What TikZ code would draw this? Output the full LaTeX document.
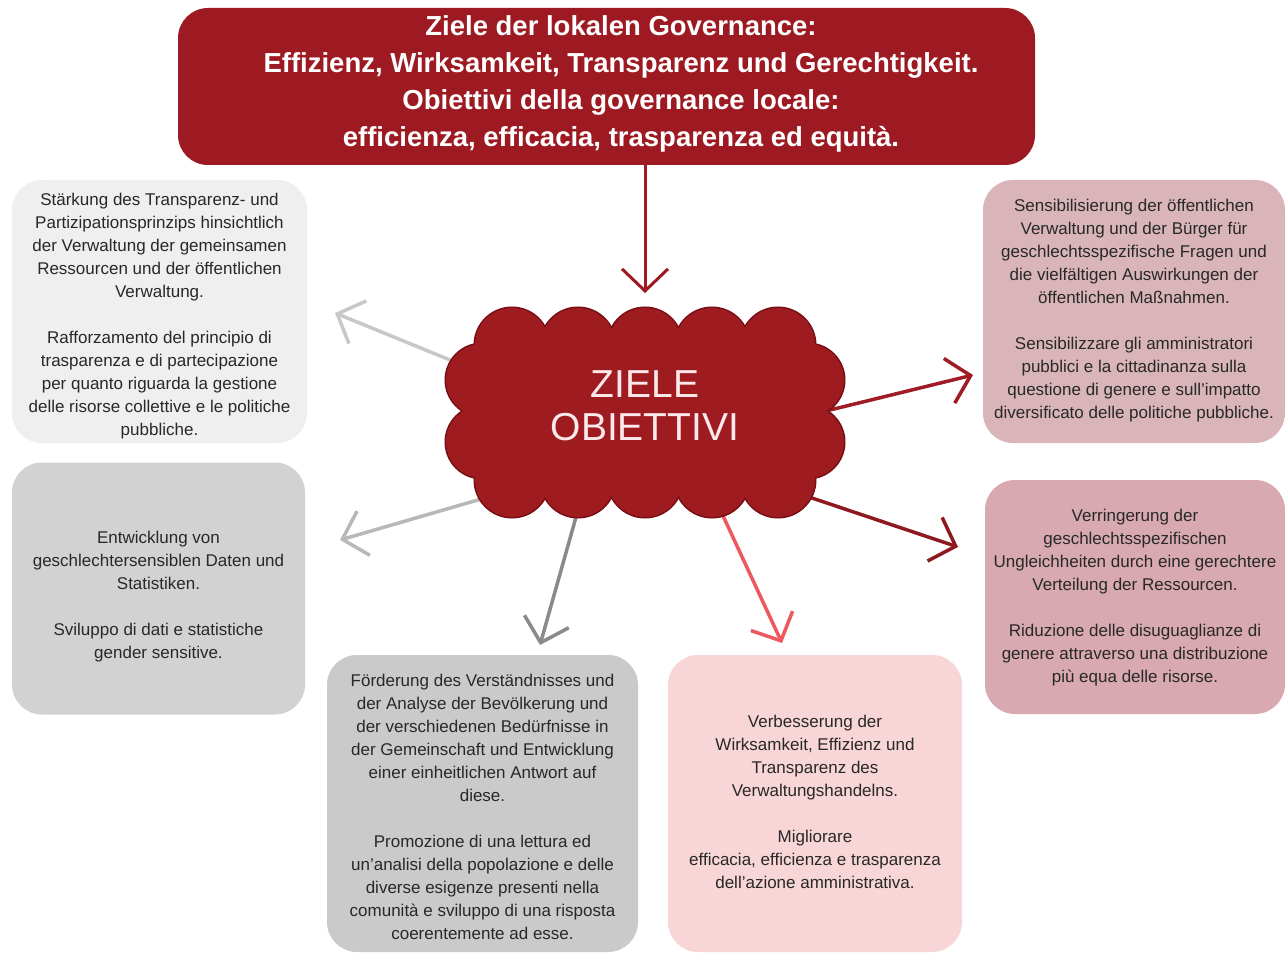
\documentclass[tikz,border=0pt]{standalone}
\usepackage{fontspec}
\setmainfont{Liberation Sans}
\usetikzlibrary{arrows.meta}
\definecolor{dred}{RGB}{157,26,34}
\definecolor{cloudred}{RGB}{158,27,32}
\definecolor{cloudedge}{RGB}{118,14,20}
\definecolor{cloudtxt}{RGB}{250,232,234}
\definecolor{txt}{RGB}{40,40,40}
\definecolor{boxA}{RGB}{239,239,239}
\definecolor{boxB}{RGB}{210,210,210}
\definecolor{boxC}{RGB}{202,202,202}
\definecolor{boxD}{RGB}{248,213,215}
\definecolor{boxE}{RGB}{217,181,185}
\definecolor{boxF}{RGB}{216,169,176}
\definecolor{arA}{RGB}{200,200,200}
\definecolor{arB}{RGB}{184,184,184}
\definecolor{arC}{RGB}{138,138,138}
\definecolor{arD}{RGB}{236,90,96}
\definecolor{arE}{RGB}{160,28,36}
\definecolor{arF}{RGB}{142,26,32}
\begin{document}
\begin{tikzpicture}[x=1pt,y=-1pt,
  infobox/.style={rounded corners=30pt, inner sep=0pt},
  infotext/.style={align=center, text=txt, inner sep=0pt,
    font=\fontsize{17}{23}\selectfont},
  conn/.style={line width=3.5pt, line cap=round, line join=round,
    -{Straight Barb[length=22pt,width=46pt]}}]
\useasboundingbox[fill=white] (0,0) rectangle (1286,955);

% top box
\node[fill=dred, rounded corners=30pt, minimum width=857pt, minimum height=157pt]
  (top) at (606.5,86.5) {};
\node[text=white, align=center, inner sep=0pt, font=\fontsize{27.5}{37}\selectfont\bfseries]
  (toptext) at (621,84)
  {Ziele der lokalen Governance:\\
   Effizienz, Wirksamkeit, Transparenz und Gerechtigkeit.\\
   Obiettivi della governance locale:\\
   efficienza, efficacia, trasparenza ed equità.};

% coordinates
\coordinate (tstart) at (645,165);
\coordinate (ttip) at (645,293);
\coordinate (s1) at (455,362);
\coordinate (t1) at (335,313);
\coordinate (s2) at (495,495);
\coordinate (t2) at (340,540);
\coordinate (s3) at (578,510);
\coordinate (t3) at (540,645);
\coordinate (s4) at (718,505);
\coordinate (t4) at (782,643);
\coordinate (s5) at (830,410);
\coordinate (t5) at (973,375);
\coordinate (s6) at (800,494);
\coordinate (t6) at (958,547);

% arrows (drawn under cloud)
\draw[conn, draw=dred, line width=3pt] (tstart) -- (ttip);
\draw[conn, draw=arA] (s1) -- (t1);
\draw[conn, draw=arB] (s2) -- (t2);
\draw[conn, draw=arC] (s3) -- (t3);
\draw[conn, draw=arD] (s4) -- (t4);
\draw[conn, draw=arE] (s5) -- (t5);
\draw[conn, draw=arF] (s6) -- (t6);

% cloud
\foreach \cx/\cy/\r in {512/345/37,578/345/37,645/345/37,712/345/37,778/345/37,
                        512/480/37,578/480/37,645/480/37,712/480/37,778/480/37,
                        482/380/36,482/442/36,808/380/36,808/442/36}
  \draw[cloudedge, line width=3pt] (\cx,\cy) circle[radius=\r];
\foreach \cx/\cy/\r in {512/345/37,578/345/37,645/345/37,712/345/37,778/345/37,
                        512/480/37,578/480/37,645/480/37,712/480/37,778/480/37,
                        482/380/36,482/442/36,808/380/36,808/442/36}
  \fill[cloudred] (\cx,\cy) circle[radius=\r];
\fill[cloudred] (482,345) rectangle (808,480);
\node[text=cloudtxt, align=center, font=\fontsize{39}{43}\selectfont]
  (cloud) at (645,406) {ZIELE\\OBIETTIVI};

% boxes
\node[infobox, fill=boxA, minimum width=295pt, minimum height=263pt] (b1) at (159.5,311.5) {};
\node[infotext] (b1t) at (159.5,316)
  {Stärkung des Transparenz- und\\
   Partizipationsprinzips hinsichtlich\\
   der Verwaltung der gemeinsamen\\
   Ressourcen und der öffentlichen\\
   Verwaltung.\\[23pt]
   Rafforzamento del principio di\\
   trasparenza e di partecipazione\\
   per quanto riguarda la gestione\\
   delle risorse collettive e le politiche\\
   pubbliche.};

\node[infobox, fill=boxB, minimum width=293pt, minimum height=252pt] (b2) at (158.5,588.5) {};
\node[infotext] (b2t) at (158.5,596.5)
  {Entwicklung von\\
   geschlechtersensiblen Daten und\\
   Statistiken.\\[23pt]
   Sviluppo di dati e statistiche\\
   gender sensitive.};

\node[infobox, fill=boxC, minimum width=311pt, minimum height=297pt] (b3) at (482.5,803.5) {};
\node[infotext] (b3t) at (482.5,806.5)
  {Förderung des Verständnisses und\\
   der Analyse der Bevölkerung und\\
   der verschiedenen Bedürfnisse in\\
   der Gemeinschaft und Entwicklung\\
   einer einheitlichen Antwort auf\\
   diese.\\[23pt]
   Promozione di una lettura ed\\
   un’analisi della popolazione e delle\\
   diverse esigenze presenti nella\\
   comunità e sviluppo di una risposta\\
   coerentemente ad esse.};

\node[infobox, fill=boxD, minimum width=294pt, minimum height=297pt] (b4) at (815,803.5) {};
\node[infotext] (b4t) at (815,802)
  {Verbesserung der\\
   Wirksamkeit, Effizienz und\\
   Transparenz des\\
   Verwaltungshandelns.\\[23pt]
   Migliorare\\
   efficacia, efficienza e trasparenza\\
   dell’azione amministrativa.};

\node[infobox, fill=boxE, minimum width=302pt, minimum height=263pt] (b5) at (1134,311.5) {};
\node[infotext] (b5t) at (1134,311)
  {Sensibilisierung der öffentlichen\\
   Verwaltung und der Bürger für\\
   geschlechtsspezifische Fragen und\\
   die vielfältigen Auswirkungen der\\
   öffentlichen Maßnahmen.\\[23pt]
   Sensibilizzare gli amministratori\\
   pubblici e la cittadinanza sulla\\
   questione di genere e sull’impatto\\
   diversificato delle politiche pubbliche.};

\node[infobox, fill=boxF, minimum width=300pt, minimum height=234pt] (b6) at (1135,597) {};
\node[infotext] (b6t) at (1135,598)
  {Verringerung der\\
   geschlechtsspezifischen\\
   Ungleichheiten durch eine gerechtere\\
   Verteilung der Ressourcen.\\[23pt]
   Riduzione delle disuguaglianze di\\
   genere attraverso una distribuzione\\
   più equa delle risorse.};
\end{tikzpicture}
\end{document}
